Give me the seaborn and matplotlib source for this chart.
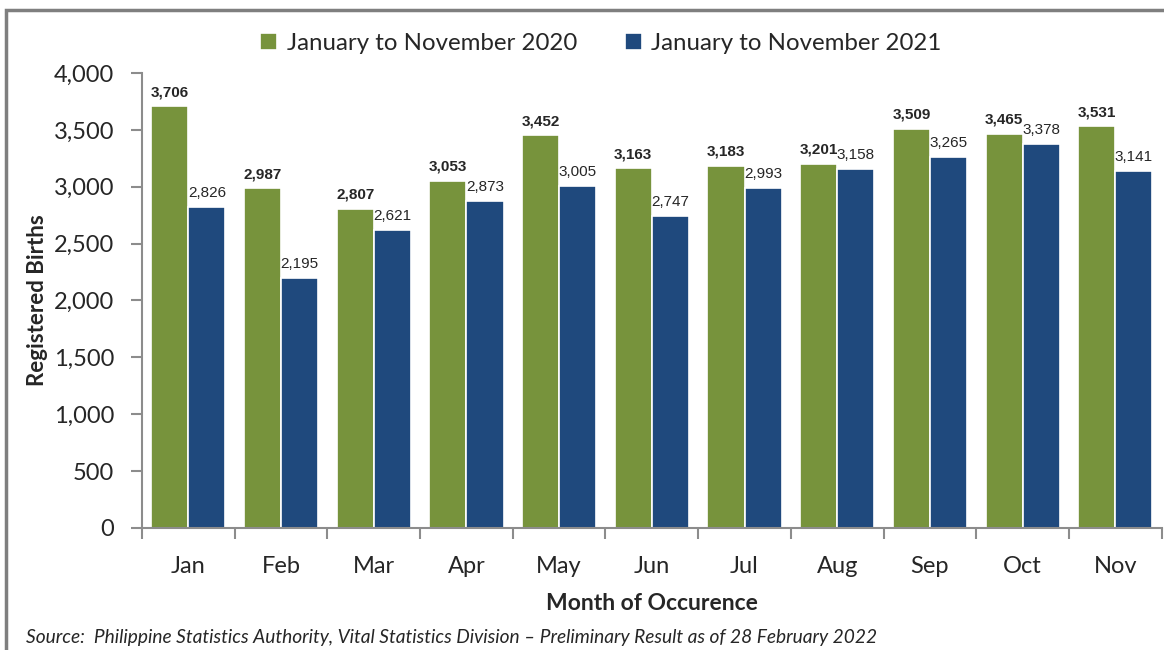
import numpy as np
import pandas as pd
import seaborn as sns
import matplotlib.pyplot as plt
from matplotlib.patches import Rectangle

# Chart data
months = ['Jan', 'Feb', 'Mar', 'Apr', 'May', 'Jun', 'Jul', 'Aug', 'Sep', 'Oct', 'Nov']
births_2020 = [3706, 2987, 2807, 3053, 3452, 3163, 3183, 3201, 3509, 3465, 3531]
births_2021 = [2826, 2195, 2621, 2873, 3005, 2747, 2993, 3158, 3265, 3378, 3141]
series = ['January to November 2020', 'January to November 2021']

# Long format table for seaborn
df = pd.DataFrame({
    'Month': months * 2,
    'Births': births_2020 + births_2021,
    'Period': [series[0]] * len(months) + [series[1]] * len(months),
})

sns.set_style('white')
plt.rcParams['font.family'] = ['Lato', 'DejaVu Sans']

green = '#77933C'
blue = '#1F497D'
gray = '#8C8C8C'

fig = plt.figure(figsize=(11.64, 6.5), dpi=100)
ax = fig.add_axes([0.122, 0.1877, 0.876, 0.7])

sns.barplot(data=df, x='Month', y='Births', hue='Period', order=months,
            hue_order=series, palette=[green, blue], width=0.8, saturation=1,
            edgecolor='white', linewidth=1.2, ax=ax)

# Data labels
label_font = ['Liberation Sans Narrow', 'Liberation Sans']
for container, weight in zip(ax.containers, ['bold', 'normal']):
    labels = [f'{v:,.0f}' for v in container.datavalues]
    ax.bar_label(container, labels=labels, padding=5, fontsize=11,
                 fontweight=weight, family=label_font)

ax.set_ylim(0, 4000)
ax.set_xlim(-0.5, len(months) - 0.5)
ax.set_yticks(range(0, 4001, 500))
ax.set_yticklabels([f'{v:,}' for v in range(0, 4001, 500)])

for side in ['top', 'right']:
    ax.spines[side].set_visible(False)
for side in ['left', 'bottom']:
    ax.spines[side].set_color(gray)
    ax.spines[side].set_linewidth(1.5)

ax.tick_params(axis='y', which='major', left=True, length=8, width=1.5,
               color=gray, labelsize=17, pad=12)
ax.tick_params(axis='x', which='major', bottom=False, labelsize=17, pad=17)
ax.set_xticks(np.arange(-0.5, len(months)), minor=True)
ax.tick_params(axis='x', which='minor', bottom=True, length=8, width=1.5, color=gray)

ax.set_xlabel('Month of Occurence', fontsize=16.5, fontweight='bold', labelpad=11)
ax.set_ylabel('Registered Births', fontsize=16, fontweight='bold', labelpad=4)

leg = ax.legend(loc='upper center', bbox_to_anchor=(0.45, 1.135), ncol=2,
                frameon=False, fontsize=17.3, handlelength=0.7, handleheight=0.7,
                columnspacing=2.0, handletextpad=0.4)

fig.text(0.022, 0.011, 'Source:  Philippine Statistics Authority, Vital Statistics Division \u2013 '
         'Preliminary Result as of 28 February 2022', fontsize=13.8, style='italic')

# Outer border (cropped at right and bottom)
fig.patches.append(Rectangle((0.0052, -0.1), 1.1, 1.085, transform=fig.transFigure,
                             fill=False, edgecolor='#7F7F7F', linewidth=2.5))

plt.savefig('out.png', dpi=100)
